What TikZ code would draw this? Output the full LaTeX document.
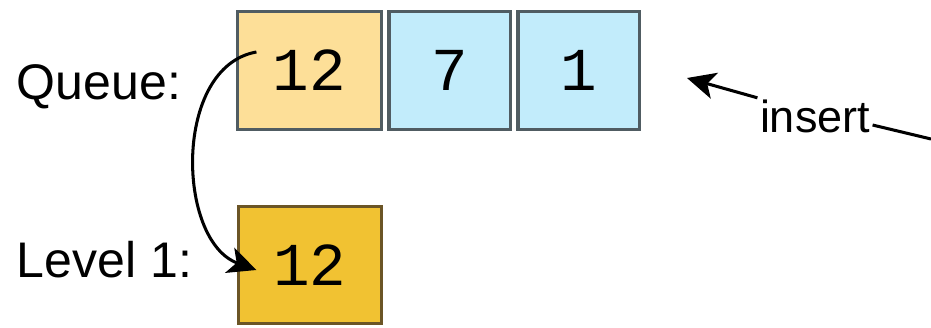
\documentclass[tikz,border=0pt]{standalone}
\usepackage{fontspec}
\setmainfont{Liberation Sans}
\newfontfamily\numfont{Liberation Mono}
\usetikzlibrary{arrows.meta,positioning}

\definecolor{colaprim}{HTML}{FDDF98}
\definecolor{colaresto}{HTML}{C2ECFB}
\definecolor{nivelfill}{HTML}{F1C232}
\definecolor{bordegris}{HTML}{505C62}
\definecolor{bordecafe}{HTML}{6B5526}

\begin{document}
\begin{tikzpicture}[
    font=\fontsize{42.7}{50}\selectfont,
    % Celdas de la cola y del nivel
    celda/.style={draw=bordegris, line width=3pt, minimum width=3.65cm, minimum height=3.53cm, inner sep=0pt, font=\numfont\fontsize{52}{60}\selectfont},
    primera/.style={celda, minimum width=4.31cm, fill=colaprim},
    resto/.style={celda, fill=colaresto},
    nivel/.style={celda, draw=bordecafe, minimum width=4.28cm, minimum height=3.5cm, fill=nivelfill},
    % Etiquetas y flechas
    etiqueta/.style={anchor=base west, inner sep=0pt},
    flecha/.style={line width=2.6pt, -{Stealth[length=0.85cm, width=0.8cm, inset=0.22cm]}}
]
\useasboundingbox (0,0) rectangle (27.93,9.84);

% --- Cola ---
\node[etiqueta] (lcola) at (0.5,6.84) {Queue:};
\node[primera] (q1) at (9.285,7.725) {12};
\node[resto, right=0.12cm of q1] (q2) {7};
\node[resto, right=0.12cm of q2] (q3) {1};

% --- Nivel 1 ---
\node[etiqueta] (lnivel) at (0.5,1.5) {Level 1:};
\node[nivel] (l1) at (9.3,1.89) {12};

% --- Insercion ---
\node[anchor=base, inner sep=2pt, font=\fontsize{38.4}{46}\selectfont] (ins) at (24.45,5.85) {insert};
\coordinate (entrada) at (27.93,5.67);
\coordinate (punta) at (20.61,7.5);
\draw[line width=2.6pt] (entrada) -- (ins.-8);
\draw[flecha] (ins.north west) -- (punta);

% --- Paso de la cola al nivel ---
\draw[flecha] ([xshift=0.615cm, yshift=0.555cm]q1.west) to[out=190, in=160] ([xshift=0.585cm, yshift=-0.15cm]l1.west);

\end{tikzpicture}
\end{document}
